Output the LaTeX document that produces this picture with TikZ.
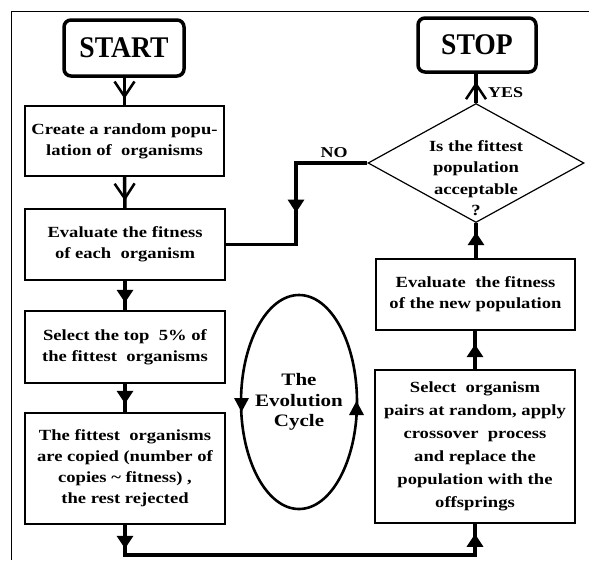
\documentclass[tikz,border=0pt]{standalone}
\usepackage{fontspec}
\setmainfont{Liberation Serif}
\newfontfamily\bodyfont{Liberation Serif}[FakeStretch=1.2]
\newfontfamily\titlefont{Liberation Serif}[FakeStretch=0.92]
\usetikzlibrary{arrows.meta,decorations.markings,shapes.geometric}
\tikzset{
  box/.style={draw=black, line width=1.6pt, rectangle, inner sep=0pt, align=center,
    font=\bodyfont\bfseries\fontsize{15.5}{21}\selectfont},
  term/.style={draw=black, line width=3.5pt, rectangle, rounded corners=7pt, inner sep=0pt,
    font=\titlefont\bfseries\fontsize{30}{30}\selectfont},
  diam/.style={draw=black, line width=1.2pt, diamond, inner sep=0pt, minimum width=216pt, minimum height=119pt},
  txt/.style={align=center, inner sep=0pt, font=\bodyfont\bfseries\fontsize{15.5}{21.5}\selectfont},
  lab/.style={inner sep=0pt, font=\bodyfont\bfseries\fontsize{15}{15}\selectfont},
  conn/.style={line width=3.5pt},
  tri/.style={postaction={decorate}, decoration={markings,
      mark=at position #1 with {\arrow{Triangle[length=13pt,width=16pt]}}}},
  tritwo/.style 2 args={postaction={decorate}, decoration={markings,
      mark=at position #1 with {\arrow{Triangle[length=13pt,width=16pt]}},
      mark=at position #2 with {\arrow{Triangle[length=13pt,width=16pt]}}}},
  vee/.style={postaction={decorate}, decoration={markings,
      mark=at position #1 with {\arrow{Straight Barb[length=15pt,width=20pt,line width=2.5pt]}}}},
  cyctip/.style={fill=black, draw=none},
}
\begin{document}
\begin{tikzpicture}[x=1pt,y=-1pt]
\useasboundingbox (0,0) rectangle (589,560);
\draw[line width=1pt] (11,560) -- (11,11) -- (589,11);

\node[term, minimum width=120pt, minimum height=56pt] (start) at (124,48) {START};
\node[box, minimum width=199pt, minimum height=70pt] (create) at (124.5,141)
  {Create a random popu-\\lation of \ organisms};
\node[box, minimum width=200pt, minimum height=71pt] (eval) at (125,244.5)
  {Evaluate the fitness\\of each \ organism};
\node[box, minimum width=200pt, minimum height=72pt] (sel) at (125,347)
  {Select the top \ 5\% of\\the fittest \ organisms};
\node[box, minimum width=200pt, minimum height=111pt] (fit) at (125,468.5)
  {The fittest \ organisms\\are copied (number of\\copies \textasciitilde\ fitness) ,\\the rest rejected};
\node[box, minimum width=200pt, minimum height=153pt, font=\bodyfont\bfseries\fontsize{15.5}{23}\selectfont] (cross) at (475,446.5)
  {Select \ organism\\pairs at random, apply\\crossover \ process\\and replace the\\population with the\\offsprings};
\node[box, minimum width=199pt, minimum height=71pt] (newpop) at (475.5,294.5)
  {Evaluate \ the fitness\\of the new population};
\node[diam] (dia) at (476,163) {};
\node[txt] (diat) at (476,178) {Is the fittest\\population\\acceptable\\?};
\node[term, minimum width=118pt, minimum height=54pt] (stop) at (477,45) {STOP};

\coordinate (cyc) at (299,402);
\draw[line width=2.6pt] (cyc) ellipse [x radius=58, y radius=107];
% arrow heads on the cycle: left one points down, right one points up
\coordinate (cl) at (241.5,412);
\coordinate (cr) at (356.5,401);
\fill[cyctip] (cl) -- ++(-7.5,-14) -- ++(15,0) -- cycle;
\fill[cyctip] (cr) -- ++(-7.5,14) -- ++(15,0) -- cycle;
\node[align=center, inner sep=0pt, font=\bodyfont\bfseries\fontsize{17.5}{20.5}\selectfont] (cyct) at (299,402) {The\\Evolution\\Cycle};

\coordinate (nc) at (296,163);
\coordinate (bl) at (125,555);

\draw[conn, vee=21pt] (start.south -| create.north) -- (create.north);
\draw[conn, vee=24pt] (create.south) -- (eval.north);
\draw[conn, tri=22pt] (eval.south) -- (sel.north);
\draw[conn, tri=20pt] (sel.south) -- (fit.north);
\draw[conn, tritwo={24pt}{-10pt}] (fit.south) -- (bl) -| (cross.south);
\draw[conn, tri=25pt] (cross.north) -- (newpop.south -| cross.north);
\draw[conn, tri=26pt] (newpop.north -| dia.south) -- (dia.south);
\draw[conn, vee=21pt] (dia.north) -- (stop.south -| dia.north);
\draw[conn, tri=121pt] (dia.west) -- (nc) |- (eval.east);

\node[lab, anchor=south] (no) at (334,158) {NO};
\node[lab, anchor=west] (yes) at (488,93) {YES};
\end{tikzpicture}
\end{document}
